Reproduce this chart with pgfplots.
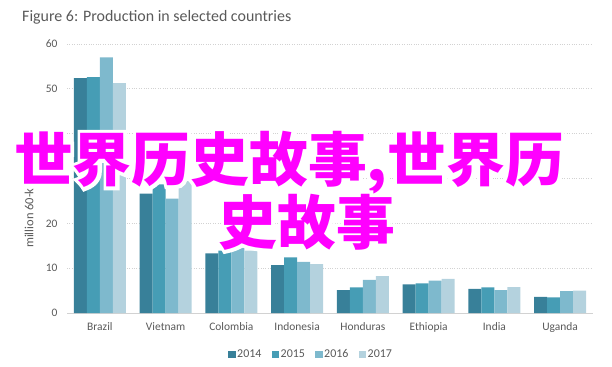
\documentclass[border=0pt]{standalone}
\usepackage{fontspec}
\setmainfont{Carlito}
\newfontfamily\cjk{Noto Sans CJK SC}
\newfontfamily\cjkout[FakeBold=12]{Noto Sans CJK SC}
\usepackage{pgfplots}
\pgfplotsset{compat=1.18}
\definecolor{cA}{RGB}{56,128,153}
\definecolor{cB}{RGB}{70,157,181}
\definecolor{cC}{RGB}{126,185,205}
\definecolor{cD}{RGB}{180,210,222}
\definecolor{txt}{RGB}{89,89,89}
\definecolor{grd}{RGB}{210,210,210}
\definecolor{mag}{RGB}{255,0,255}
\begin{document}
\begin{tikzpicture}[x=1bp,y=1bp]
\useasboundingbox (-67,-53) rectangle (545,313);
\begin{axis}[
  scale only axis, width=526bp, height=269bp,
  at={(0,0)}, anchor=south west,
  ybar=0pt, bar width=13bp,
  xmin=-0.5, xmax=7.5, ymin=0, ymax=60,
  xtick=data,
  xticklabels={Brazil,Vietnam,Colombia,Indonesia,Honduras,Ethiopia,India,Uganda},
  ytick={0,10,20,30,40,50,60},
  axis x line*=bottom, axis y line*=left,
  x axis line style={grd, line width=0.8pt, -},
  y axis line style={draw=none},
  xtick style={draw=none}, ytick style={draw=none},
  ymajorgrids, grid style={grd, dotted, line width=0.8pt},
  tick label style={font=\fontsize{11.5}{13}\selectfont, text=txt},
  /pgf/number format/assume math mode=true,
  xticklabel style={yshift=-2bp},
  yticklabel style={anchor=east, xshift=-6bp},
  every axis plot/.append style={draw=none},
  clip=false,
]
\addplot[fill=cA] coordinates {(0,52.4) (1,26.6) (2,13.3) (3,10.7) (4,5.1) (5,6.4) (6,5.4) (7,3.6)};
\addplot[fill=cB] coordinates {(0,52.6) (1,28.7) (2,13.9) (3,12.4) (4,5.7) (5,6.6) (6,5.7) (7,3.5)};
\addplot[fill=cC] coordinates {(0,57.0) (1,25.5) (2,14.6) (3,11.4) (4,7.4) (5,7.2) (6,5.1) (7,4.9)};
\addplot[fill=cD] coordinates {(0,51.3) (1,29.4) (2,13.9) (3,10.9) (4,8.2) (5,7.6) (6,5.8) (7,5.0)};
\end{axis}
% title and y label
\node[anchor=west, text=txt, font=\fontsize{16}{18}\selectfont, inner sep=0] at (-45,296) {Figure 6: Production in selected countries};
\node[rotate=90, anchor=west, text=txt, font=\fontsize{12.5}{14}\selectfont, inner sep=0] at (-37,65) {million 60-kg bags};
% legend
\begin{scope}[font=\fontsize{12}{14}\selectfont]
\foreach \c/\l [count=\i from 0] in {cA/2014,cB/2015,cC/2016,cD/2017} {
  \fill[\c] (161+\i*43.5, -45) rectangle ++(7.5,7.5);
  \node[anchor=west, text=txt, inner sep=0] at (170+\i*43.5,-41) {\l};
}
\end{scope}
% overlay text
\node[text=white, font=\cjkout\bfseries\fontsize{59}{61}\selectfont, inner sep=0] at (222,150) {世界历史故事,世界历};
\node[text=mag, font=\cjk\bfseries\fontsize{59}{61}\selectfont, inner sep=0] at (222,150) {世界历史故事,世界历};
\node[text=white, font=\cjkout\bfseries\fontsize{59}{61}\selectfont, inner sep=0] at (240,91) {史故事};
\node[text=mag, font=\cjk\bfseries\fontsize{59}{61}\selectfont, inner sep=0] at (240,91) {史故事};
\end{tikzpicture}
\end{document}
